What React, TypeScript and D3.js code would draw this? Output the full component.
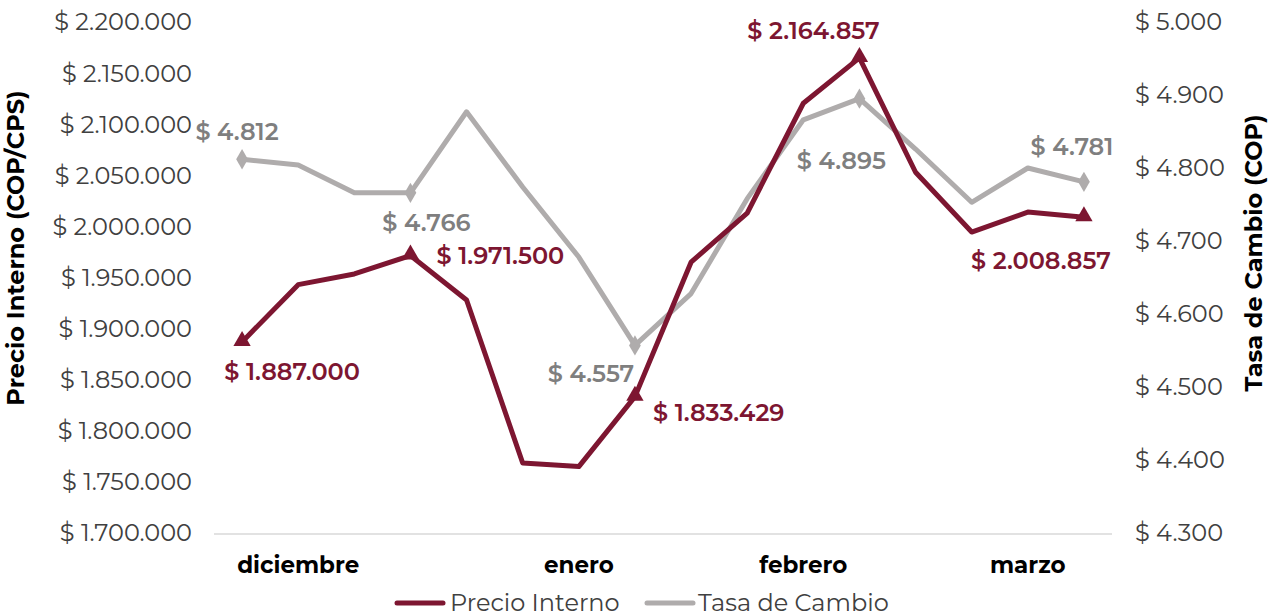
import React from "react";
import * as d3 from "d3";

const categories = ["d1","d2","d3","d4","e1","e2","e3","e4","f1","f2","f3","f4","m1","m2","m3","m4"];
const monthLabels = [
  { index: 1, label: "diciembre" },
  { index: 6, label: "enero" },
  { index: 10, label: "febrero" },
  { index: 14, label: "marzo" },
];
const precioInterno = [1887000, 1943000, 1953500, 1971500, 1928000, 1768500, 1765000, 1833429, 1965000, 2013000, 2120500, 2164857, 2053000, 1994500, 2014000, 2008857];
const tasaCambio = [4812, 4804, 4766, 4766, 4877, 4774, 4678, 4557, 4628, 4758, 4866, 4895, 4826, 4753, 4800, 4781];
const leftTicks = [1700000, 1750000, 1800000, 1850000, 1900000, 1950000, 2000000, 2050000, 2100000, 2150000, 2200000];
const rightTicks = [4300, 4400, 4500, 4600, 4700, 4800, 4900, 5000];
const precioMarked = [0, 3, 7, 11, 15];
const tasaMarked = [0, 3, 7, 11, 15];

const RED = "#7d1631";
const GRAY = "#afacac";
const GRAY_TXT = "#7f7f7f";
const FONT = "Montserrat, 'Open Sans', sans-serif";

const fmt = (v: number) => "$ " + d3.format(",")(v).replace(/,/g, ".");

export default function App() {
  const W = 1278, H = 616;
  const x0 = 214, x1 = 1112;
  const x = d3.scaleBand<string>().domain(categories).range([x0, x1]);
  const cx = (i: number) => (x(categories[i]) as number) + x.bandwidth() / 2;
  const yL = d3.scaleLinear().domain([1700000, 2200000]).range([533, 22]);
  const yR = d3.scaleLinear().domain([4300, 5000]).range([533, 22]);

  const lineL = d3.line<number>().x((_, i) => cx(i)).y((d) => yL(d));
  const lineR = d3.line<number>().x((_, i) => cx(i)).y((d) => yR(d));

  const redLabels: Record<number, [number, number, string]> = {
    0: [50, 30, "middle"],
    3: [26, 0, "start"],
    7: [18, 16, "start"],
    11: [-46, -27, "middle"],
    15: [-43, 43, "middle"],
  };
  const grayLabels: Record<number, [number, number, string]> = {
    0: [-5, -28, "middle"],
    3: [16, 30, "middle"],
    7: [-44, 28, "middle"],
    11: [-18, 62, "middle"],
    15: [-12, -35, "middle"],
  };

  const tri = d3.symbol().type(d3.symbolTriangle).size(130)();
  const dia = d3.symbol().type(d3.symbolDiamond).size(120)();

  return (
    <svg width={W} height={H} style={{ position: "absolute", left: 0, top: 0, background: "#fff" }} fontFamily={FONT}>
      <line x1={x0} x2={x1} y1={534} y2={534} stroke="#d9d9d9" strokeWidth={1.5} />
      {leftTicks.map((t) => (
        <text key={t} x={192} y={yL(t)} dy="0.35em" textAnchor="end" fontSize={24} fill="#404040">
          {fmt(t)}
        </text>
      ))}
      {rightTicks.map((t) => (
        <text key={t} x={1135} y={yR(t)} dy="0.35em" textAnchor="start" fontSize={24} fill="#404040">
          {fmt(t)}
        </text>
      ))}
      <text transform="translate(24,248) rotate(-90)" textAnchor="middle" fontSize={24} fontWeight="bold" fill="#000">
        Precio Interno (COP/CPS)
      </text>
      <text transform="translate(1262,253) rotate(-90)" textAnchor="middle" fontSize={24} fontWeight="bold" fill="#000">
        Tasa de Cambio (COP)
      </text>
      {monthLabels.map((m) => (
        <text key={m.label} x={cx(m.index)} y={565} dy="0.35em" textAnchor="middle" fontSize={23} fontWeight="bold" fill="#000">
          {m.label}
        </text>
      ))}
      <path d={lineR(tasaCambio) || ""} fill="none" stroke={GRAY} strokeWidth={5} strokeLinejoin="round" />
      <path d={lineL(precioInterno) || ""} fill="none" stroke={RED} strokeWidth={5} strokeLinejoin="round" />
      {tasaMarked.map((i) => (
        <path key={"gd" + i} d={dia || ""} transform={`translate(${cx(i)},${yR(tasaCambio[i])})`} fill={GRAY} />
      ))}
      {precioMarked.map((i) => (
        <path key={"rt" + i} d={tri || ""} transform={`translate(${cx(i)},${yL(precioInterno[i]) - 1})`} fill={RED} />
      ))}
      {tasaMarked.map((i) => {
        const [dx, dy, a] = grayLabels[i];
        return (
          <text key={"gl" + i} x={cx(i) + dx} y={yR(tasaCambio[i]) + dy} dy="0.35em" textAnchor={a as any} fontSize={24} fontWeight={600} fill={GRAY_TXT}>
            {fmt(tasaCambio[i])}
          </text>
        );
      })}
      {precioMarked.map((i) => {
        const [dx, dy, a] = redLabels[i];
        return (
          <text key={"rl" + i} x={cx(i) + dx} y={yL(precioInterno[i]) + dy} dy="0.35em" textAnchor={a as any} fontSize={24} fontWeight={600} fill={RED}>
            {fmt(precioInterno[i])}
          </text>
        );
      })}
      <line x1={397} x2={443} y1={603} y2={603} stroke={RED} strokeWidth={5} strokeLinecap="round" />
      <text x={450} y={603} dy="0.35em" fontSize={24} fill="#404040">Precio Interno</text>
      <line x1={647} x2={693} y1={603} y2={603} stroke={GRAY} strokeWidth={5} strokeLinecap="round" />
      <text x={698} y={603} dy="0.35em" fontSize={24} fill="#404040">Tasa de Cambio</text>
    </svg>
  );
}
